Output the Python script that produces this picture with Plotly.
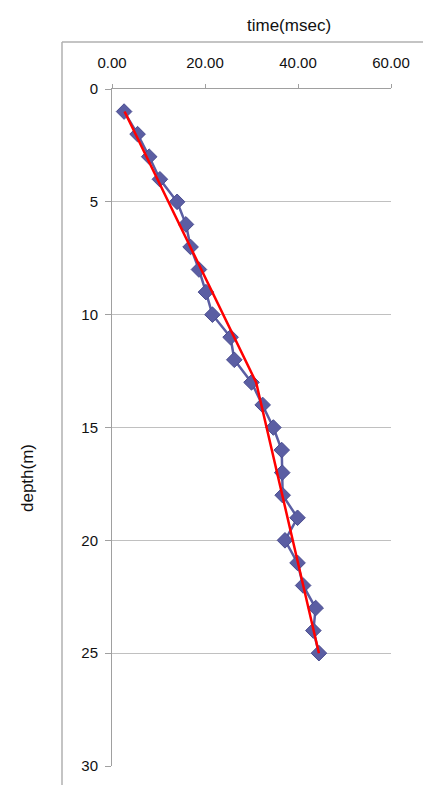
import plotly.graph_objects as go

depth = list(range(1, 26))
time_ms = [2.6, 5.5, 8.0, 10.3, 14.0, 15.9, 16.9, 18.7, 20.2, 21.6,
           25.5, 26.3, 30.0, 32.4, 34.7, 36.5, 36.6, 36.7, 39.9, 37.2,
           39.9, 41.1, 43.8, 43.3, 44.5]

fit_depth = [1, 13, 25]
fit_time = [2.7, 31.0, 44.5]

x_ticks = [0, 20, 40, 60]
x_ticklabels = ["0.00", "20.00", "40.00", "60.00"]
y_ticks = [0, 5, 10, 15, 20, 25, 30]

OFF = 8  # page body margin
W, H = 431 - OFF, 785 - OFF
L, R, T, B = 112 - OFF, 40, 89 - OFF, 19
pw, ph = W - L - R, H - T - B

def px_x(p):
    return (p - OFF - L) / pw

def px_y(p):
    return 1 - (p - OFF - T) / ph

fig = go.Figure()
fig.add_trace(go.Scatter(
    x=time_ms, y=depth, mode="lines+markers",
    line=dict(color="#5b5ea3", width=2.5),
    marker=dict(symbol="diamond", size=12, color="#5b5ea3",
                line=dict(color="#4a4d90", width=1)),
    showlegend=False))
fig.add_trace(go.Scatter(
    x=fit_time, y=fit_depth, mode="lines",
    line=dict(color="#ff0000", width=2.5),
    showlegend=False))

frame_x = px_x(62)
frame_y = px_y(42)

fig.update_layout(
    width=W, height=H,
    margin=dict(l=L, r=R, t=T, b=B),
    paper_bgcolor="white", plot_bgcolor="white",
    font=dict(family="Liberation Sans, Arial, sans-serif", size=15, color="#111"),
    xaxis=dict(side="top", range=[0, 60], tickvals=x_ticks, ticktext=x_ticklabels,
               showgrid=False, zeroline=False, showline=True, linecolor="#a0a0a0",
               linewidth=1, ticks="outside", ticklen=4, tickcolor="#a0a0a0",
               ticklabelstandoff=10, tickfont=dict(size=15, color="#111")),
    yaxis=dict(range=[30, 0], tickvals=y_ticks, showgrid=True, gridcolor="#c0c0c0",
               gridwidth=1, zeroline=False, showline=True, linecolor="#a0a0a0",
               linewidth=1, ticks="outside", ticklen=6, tickcolor="#a0a0a0",
               ticklabelstandoff=4, tickfont=dict(size=15, color="#111")),
    shapes=[
        dict(type="line", xref="paper", yref="paper", x0=frame_x, x1=frame_x,
             y0=-0.1, y1=frame_y, line=dict(color="#b0b0b0", width=1.5)),
        dict(type="line", xref="paper", yref="paper", x0=frame_x, x1=1.3,
             y0=frame_y, y1=frame_y, line=dict(color="#b0b0b0", width=1.5)),
    ],
    annotations=[
        dict(text="time(msec)", xref="paper", yref="paper",
             x=px_x(289), y=px_y(25), showarrow=False,
             xanchor="center", yanchor="middle", font=dict(size=17, color="#111")),
        dict(text="depth(m)", xref="paper", yref="paper", textangle=-90,
             x=px_x(27), y=px_y(478), showarrow=False,
             xanchor="center", yanchor="middle", font=dict(size=17, color="#111")),
    ],
)

fig.write_html("out.html")
